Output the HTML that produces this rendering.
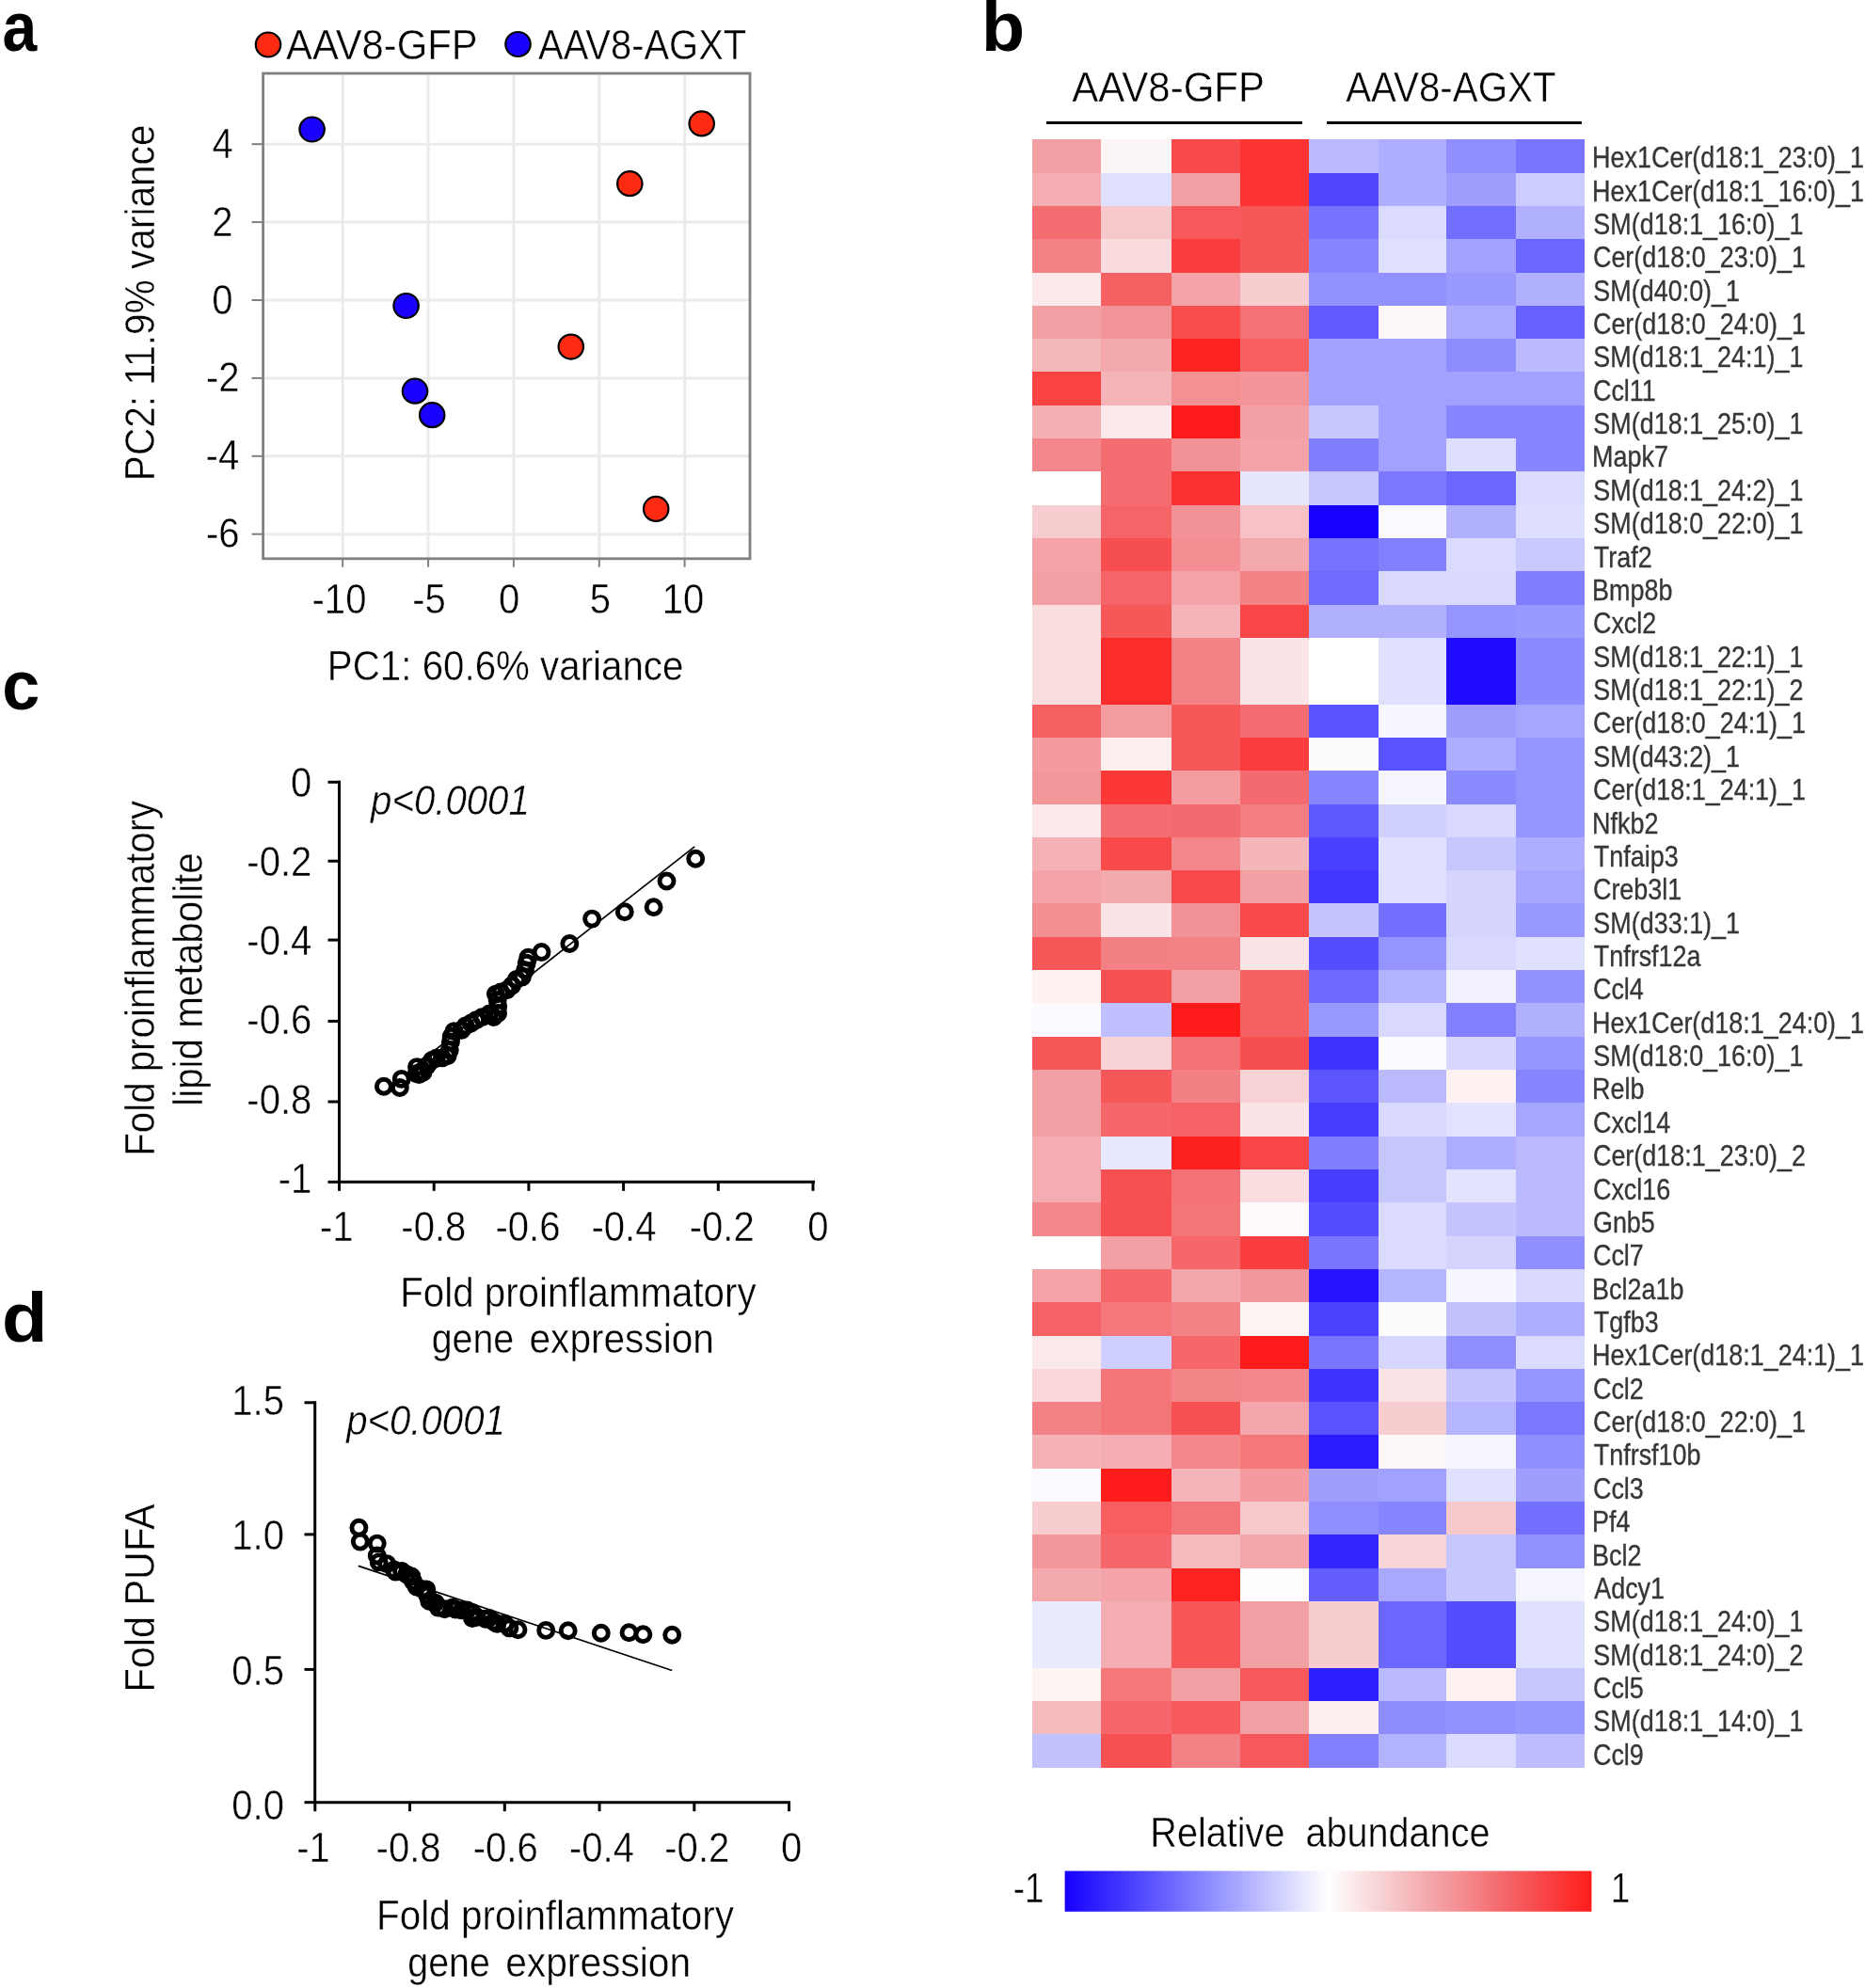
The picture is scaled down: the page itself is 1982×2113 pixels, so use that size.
<!DOCTYPE html><html><head><meta charset="utf-8"><title>Figure</title><style>html,body{margin:0;padding:0;background:#fff}svg{display:block;filter:blur(0.4px)}text{font-family:"Liberation Sans", sans-serif;white-space:pre}</style></head><body>
<svg width="1982" height="2113" viewBox="0 0 1982 2113">
<rect width="1982" height="2113" fill="#fff"/>
<g><line x1="364.2" y1="78" x2="364.2" y2="593.8" stroke="#ebebeb" stroke-width="3"/><line x1="364.2" y1="593.8" x2="364.2" y2="602.8" stroke="#7f7f7f" stroke-width="2"/><line x1="455.1" y1="78" x2="455.1" y2="593.8" stroke="#ebebeb" stroke-width="3"/><line x1="455.1" y1="593.8" x2="455.1" y2="602.8" stroke="#7f7f7f" stroke-width="2"/><line x1="545.9" y1="78" x2="545.9" y2="593.8" stroke="#ebebeb" stroke-width="3"/><line x1="545.9" y1="593.8" x2="545.9" y2="602.8" stroke="#7f7f7f" stroke-width="2"/><line x1="636.8" y1="78" x2="636.8" y2="593.8" stroke="#ebebeb" stroke-width="3"/><line x1="636.8" y1="593.8" x2="636.8" y2="602.8" stroke="#7f7f7f" stroke-width="2"/><line x1="727.6" y1="78" x2="727.6" y2="593.8" stroke="#ebebeb" stroke-width="3"/><line x1="727.6" y1="593.8" x2="727.6" y2="602.8" stroke="#7f7f7f" stroke-width="2"/><line x1="279.6" y1="153.2" x2="797" y2="153.2" stroke="#ebebeb" stroke-width="3"/><line x1="267.6" y1="153.2" x2="279.6" y2="153.2" stroke="#7f7f7f" stroke-width="2"/><line x1="279.6" y1="236.1" x2="797" y2="236.1" stroke="#ebebeb" stroke-width="3"/><line x1="267.6" y1="236.1" x2="279.6" y2="236.1" stroke="#7f7f7f" stroke-width="2"/><line x1="279.6" y1="319.0" x2="797" y2="319.0" stroke="#ebebeb" stroke-width="3"/><line x1="267.6" y1="319.0" x2="279.6" y2="319.0" stroke="#7f7f7f" stroke-width="2"/><line x1="279.6" y1="401.9" x2="797" y2="401.9" stroke="#ebebeb" stroke-width="3"/><line x1="267.6" y1="401.9" x2="279.6" y2="401.9" stroke="#7f7f7f" stroke-width="2"/><line x1="279.6" y1="484.8" x2="797" y2="484.8" stroke="#ebebeb" stroke-width="3"/><line x1="267.6" y1="484.8" x2="279.6" y2="484.8" stroke="#7f7f7f" stroke-width="2"/><line x1="279.6" y1="567.7" x2="797" y2="567.7" stroke="#ebebeb" stroke-width="3"/><line x1="267.6" y1="567.7" x2="279.6" y2="567.7" stroke="#7f7f7f" stroke-width="2"/><rect x="279.6" y="78" width="517.4" height="515.8" fill="none" stroke="#808080" stroke-width="2.8"/><ellipse cx="745.7" cy="131.4" rx="13.2" ry="13.0" fill="#ff2a12" stroke="#000" stroke-width="2.2"/><ellipse cx="669.3" cy="195.2" rx="13.2" ry="13.0" fill="#ff2a12" stroke="#000" stroke-width="2.2"/><ellipse cx="606.8" cy="368.6" rx="13.2" ry="13.0" fill="#ff2a12" stroke="#000" stroke-width="2.2"/><ellipse cx="697.2" cy="540.9" rx="13.2" ry="13.0" fill="#ff2a12" stroke="#000" stroke-width="2.2"/><ellipse cx="331.6" cy="137.5" rx="13.2" ry="13.0" fill="#1a00ff" stroke="#000" stroke-width="2.2"/><ellipse cx="431.6" cy="325" rx="13.2" ry="13.0" fill="#1a00ff" stroke="#000" stroke-width="2.2"/><ellipse cx="441" cy="415.7" rx="13.2" ry="13.0" fill="#1a00ff" stroke="#000" stroke-width="2.2"/><ellipse cx="459.2" cy="441.2" rx="13.2" ry="13.0" fill="#1a00ff" stroke="#000" stroke-width="2.2"/><ellipse cx="285" cy="47.5" rx="13.2" ry="13.0" fill="#ff2a12" stroke="#000" stroke-width="2.2"/><ellipse cx="550.5" cy="47" rx="13.2" ry="13.0" fill="#1a00ff" stroke="#000" stroke-width="2.2"/></g>
<g><path d="M360.5 829.8 V1256.3 H866.0" fill="none" stroke="#000" stroke-width="3"/><line x1="348.5" y1="831.3" x2="360.5" y2="831.3" stroke="#000" stroke-width="3"/><line x1="360.5" y1="1256.3" x2="360.5" y2="1265.8" stroke="#000" stroke-width="3"/><line x1="348.5" y1="915.2" x2="360.5" y2="915.2" stroke="#000" stroke-width="3"/><line x1="461.2" y1="1256.3" x2="461.2" y2="1265.8" stroke="#000" stroke-width="3"/><line x1="348.5" y1="999.1" x2="360.5" y2="999.1" stroke="#000" stroke-width="3"/><line x1="561.9" y1="1256.3" x2="561.9" y2="1265.8" stroke="#000" stroke-width="3"/><line x1="348.5" y1="1085.4" x2="360.5" y2="1085.4" stroke="#000" stroke-width="3"/><line x1="662.6" y1="1256.3" x2="662.6" y2="1265.8" stroke="#000" stroke-width="3"/><line x1="348.5" y1="1171.0" x2="360.5" y2="1171.0" stroke="#000" stroke-width="3"/><line x1="763.3" y1="1256.3" x2="763.3" y2="1265.8" stroke="#000" stroke-width="3"/><line x1="348.5" y1="1256.3" x2="360.5" y2="1256.3" stroke="#000" stroke-width="3"/><line x1="864.0" y1="1256.3" x2="864.0" y2="1265.8" stroke="#000" stroke-width="3"/><line x1="440" y1="1133.6" x2="738.2" y2="899.8" stroke="#000" stroke-width="1.7"/><circle cx="407.9" cy="1154.8" r="7.5" fill="none" stroke="#000" stroke-width="4.9"/><circle cx="426.7" cy="1146.9" r="7.5" fill="none" stroke="#000" stroke-width="4.9"/><circle cx="424.9" cy="1156.0" r="7.5" fill="none" stroke="#000" stroke-width="4.9"/><circle cx="575.5" cy="1012.0" r="7.5" fill="none" stroke="#000" stroke-width="4.9"/><circle cx="605.3" cy="1003.0" r="7.5" fill="none" stroke="#000" stroke-width="4.9"/><circle cx="629.1" cy="976.6" r="7.5" fill="none" stroke="#000" stroke-width="4.9"/><circle cx="663.8" cy="969.3" r="7.5" fill="none" stroke="#000" stroke-width="4.9"/><circle cx="694.6" cy="964.3" r="7.5" fill="none" stroke="#000" stroke-width="4.9"/><circle cx="708.5" cy="936.5" r="7.5" fill="none" stroke="#000" stroke-width="4.9"/><circle cx="739.2" cy="912.7" r="7.5" fill="none" stroke="#000" stroke-width="4.9"/><circle cx="443.0" cy="1134.1" r="7.5" fill="none" stroke="#000" stroke-width="4.9"/><circle cx="442.6" cy="1141.2" r="7.5" fill="none" stroke="#000" stroke-width="4.9"/><circle cx="445.4" cy="1142.0" r="7.5" fill="none" stroke="#000" stroke-width="4.9"/><circle cx="449.5" cy="1139.8" r="7.5" fill="none" stroke="#000" stroke-width="4.9"/><circle cx="453.9" cy="1132.6" r="7.5" fill="none" stroke="#000" stroke-width="4.9"/><circle cx="459.0" cy="1127.0" r="7.5" fill="none" stroke="#000" stroke-width="4.9"/><circle cx="463.7" cy="1124.7" r="7.5" fill="none" stroke="#000" stroke-width="4.9"/><circle cx="469.8" cy="1124.4" r="7.5" fill="none" stroke="#000" stroke-width="4.9"/><circle cx="475.6" cy="1122.2" r="7.5" fill="none" stroke="#000" stroke-width="4.9"/><circle cx="477.8" cy="1116.0" r="7.5" fill="none" stroke="#000" stroke-width="4.9"/><circle cx="478.9" cy="1107.4" r="7.5" fill="none" stroke="#000" stroke-width="4.9"/><circle cx="479.7" cy="1101.7" r="7.5" fill="none" stroke="#000" stroke-width="4.9"/><circle cx="482.5" cy="1096.1" r="7.5" fill="none" stroke="#000" stroke-width="4.9"/><circle cx="490.4" cy="1094.9" r="7.5" fill="none" stroke="#000" stroke-width="4.9"/><circle cx="494.6" cy="1090.5" r="7.5" fill="none" stroke="#000" stroke-width="4.9"/><circle cx="500.6" cy="1087.5" r="7.5" fill="none" stroke="#000" stroke-width="4.9"/><circle cx="506.1" cy="1084.1" r="7.5" fill="none" stroke="#000" stroke-width="4.9"/><circle cx="512.3" cy="1081.1" r="7.5" fill="none" stroke="#000" stroke-width="4.9"/><circle cx="520.1" cy="1077.5" r="7.5" fill="none" stroke="#000" stroke-width="4.9"/><circle cx="524.6" cy="1081.0" r="7.5" fill="none" stroke="#000" stroke-width="4.9"/><circle cx="529.1" cy="1077.0" r="7.5" fill="none" stroke="#000" stroke-width="4.9"/><circle cx="529.2" cy="1069.7" r="7.5" fill="none" stroke="#000" stroke-width="4.9"/><circle cx="528.7" cy="1063.0" r="7.5" fill="none" stroke="#000" stroke-width="4.9"/><circle cx="526.9" cy="1056.6" r="7.5" fill="none" stroke="#000" stroke-width="4.9"/><circle cx="532.2" cy="1054.5" r="7.5" fill="none" stroke="#000" stroke-width="4.9"/><circle cx="538.7" cy="1052.2" r="7.5" fill="none" stroke="#000" stroke-width="4.9"/><circle cx="544.1" cy="1047.4" r="7.5" fill="none" stroke="#000" stroke-width="4.9"/><circle cx="549.0" cy="1040.9" r="7.5" fill="none" stroke="#000" stroke-width="4.9"/><circle cx="554.9" cy="1038.4" r="7.5" fill="none" stroke="#000" stroke-width="4.9"/><circle cx="558.0" cy="1031.2" r="7.5" fill="none" stroke="#000" stroke-width="4.9"/><circle cx="559.7" cy="1023.7" r="7.5" fill="none" stroke="#000" stroke-width="4.9"/><circle cx="561.3" cy="1017.7" r="7.5" fill="none" stroke="#000" stroke-width="4.9"/></g>
<g><path d="M334.7 1489.3 V1915.7 H840.0" fill="none" stroke="#000" stroke-width="3"/><line x1="323.5" y1="1915.7" x2="334.7" y2="1915.7" stroke="#000" stroke-width="3"/><line x1="323.5" y1="1774.4" x2="334.7" y2="1774.4" stroke="#000" stroke-width="3"/><line x1="323.5" y1="1630.9" x2="334.7" y2="1630.9" stroke="#000" stroke-width="3"/><line x1="323.5" y1="1490.8" x2="334.7" y2="1490.8" stroke="#000" stroke-width="3"/><line x1="334.8" y1="1915.7" x2="334.8" y2="1925.2" stroke="#000" stroke-width="3"/><line x1="435.55" y1="1915.7" x2="435.55" y2="1925.2" stroke="#000" stroke-width="3"/><line x1="536.3" y1="1915.7" x2="536.3" y2="1925.2" stroke="#000" stroke-width="3"/><line x1="637.05" y1="1915.7" x2="637.05" y2="1925.2" stroke="#000" stroke-width="3"/><line x1="737.8" y1="1915.7" x2="737.8" y2="1925.2" stroke="#000" stroke-width="3"/><line x1="838.55" y1="1915.7" x2="838.55" y2="1925.2" stroke="#000" stroke-width="3"/><line x1="380.8" y1="1664.4" x2="714.2" y2="1775.5" stroke="#000" stroke-width="1.7"/><circle cx="381.4" cy="1623.7" r="7.5" fill="none" stroke="#000" stroke-width="4.9"/><circle cx="382.8" cy="1638.6" r="7.5" fill="none" stroke="#000" stroke-width="4.9"/><circle cx="400.7" cy="1640.6" r="7.5" fill="none" stroke="#000" stroke-width="4.9"/><circle cx="400.7" cy="1653.5" r="7.5" fill="none" stroke="#000" stroke-width="4.9"/><circle cx="402.7" cy="1660.4" r="7.5" fill="none" stroke="#000" stroke-width="4.9"/><circle cx="550.5" cy="1732.3" r="7.5" fill="none" stroke="#000" stroke-width="4.9"/><circle cx="580.2" cy="1732.9" r="7.5" fill="none" stroke="#000" stroke-width="4.9"/><circle cx="603.7" cy="1733.3" r="7.5" fill="none" stroke="#000" stroke-width="4.9"/><circle cx="638.8" cy="1735.8" r="7.5" fill="none" stroke="#000" stroke-width="4.9"/><circle cx="668.5" cy="1735.2" r="7.5" fill="none" stroke="#000" stroke-width="4.9"/><circle cx="683.4" cy="1737.2" r="7.5" fill="none" stroke="#000" stroke-width="4.9"/><circle cx="714.2" cy="1737.8" r="7.5" fill="none" stroke="#000" stroke-width="4.9"/><circle cx="411.1" cy="1662.1" r="7.5" fill="none" stroke="#000" stroke-width="4.9"/><circle cx="418.9" cy="1668.5" r="7.5" fill="none" stroke="#000" stroke-width="4.9"/><circle cx="420.5" cy="1670.6" r="7.5" fill="none" stroke="#000" stroke-width="4.9"/><circle cx="427.1" cy="1670.0" r="7.5" fill="none" stroke="#000" stroke-width="4.9"/><circle cx="432.3" cy="1673.5" r="7.5" fill="none" stroke="#000" stroke-width="4.9"/><circle cx="437.3" cy="1675.5" r="7.5" fill="none" stroke="#000" stroke-width="4.9"/><circle cx="438.9" cy="1680.6" r="7.5" fill="none" stroke="#000" stroke-width="4.9"/><circle cx="442.6" cy="1686.5" r="7.5" fill="none" stroke="#000" stroke-width="4.9"/><circle cx="449.1" cy="1689.3" r="7.5" fill="none" stroke="#000" stroke-width="4.9"/><circle cx="453.3" cy="1689.4" r="7.5" fill="none" stroke="#000" stroke-width="4.9"/><circle cx="452.9" cy="1690.2" r="7.5" fill="none" stroke="#000" stroke-width="4.9"/><circle cx="454.2" cy="1695.6" r="7.5" fill="none" stroke="#000" stroke-width="4.9"/><circle cx="456.2" cy="1701.7" r="7.5" fill="none" stroke="#000" stroke-width="4.9"/><circle cx="462.7" cy="1703.6" r="7.5" fill="none" stroke="#000" stroke-width="4.9"/><circle cx="465.7" cy="1708.6" r="7.5" fill="none" stroke="#000" stroke-width="4.9"/><circle cx="472.5" cy="1710.2" r="7.5" fill="none" stroke="#000" stroke-width="4.9"/><circle cx="480.8" cy="1708.8" r="7.5" fill="none" stroke="#000" stroke-width="4.9"/><circle cx="484.5" cy="1710.6" r="7.5" fill="none" stroke="#000" stroke-width="4.9"/><circle cx="491.1" cy="1711.4" r="7.5" fill="none" stroke="#000" stroke-width="4.9"/><circle cx="496.5" cy="1711.5" r="7.5" fill="none" stroke="#000" stroke-width="4.9"/><circle cx="501.9" cy="1714.0" r="7.5" fill="none" stroke="#000" stroke-width="4.9"/><circle cx="502.0" cy="1720.0" r="7.5" fill="none" stroke="#000" stroke-width="4.9"/><circle cx="506.9" cy="1718.8" r="7.5" fill="none" stroke="#000" stroke-width="4.9"/><circle cx="515.9" cy="1720.8" r="7.5" fill="none" stroke="#000" stroke-width="4.9"/><circle cx="519.6" cy="1719.9" r="7.5" fill="none" stroke="#000" stroke-width="4.9"/><circle cx="524.7" cy="1723.8" r="7.5" fill="none" stroke="#000" stroke-width="4.9"/><circle cx="528.4" cy="1725.9" r="7.5" fill="none" stroke="#000" stroke-width="4.9"/><circle cx="536.4" cy="1725.7" r="7.5" fill="none" stroke="#000" stroke-width="4.9"/><circle cx="541.4" cy="1730.4" r="7.5" fill="none" stroke="#000" stroke-width="4.9"/></g>
<g shape-rendering="crispEdges"><line x1="1111.6" y1="130" x2="1384.4" y2="130" stroke="#000" stroke-width="3"/><line x1="1409.7" y1="130" x2="1680.9" y2="130" stroke="#000" stroke-width="3"/><rect x="1097.00" y="148.30" width="73.40" height="35.61" fill="#f3a0a4"/><rect x="1170.10" y="148.30" width="75.40" height="35.61" fill="#fdf6f6"/><rect x="1245.20" y="148.30" width="73.10" height="35.61" fill="#f8494b"/><rect x="1318.00" y="148.30" width="73.70" height="35.61" fill="#fb3332"/><rect x="1391.40" y="148.30" width="73.40" height="35.61" fill="#bbbaff"/><rect x="1464.50" y="148.30" width="73.10" height="35.61" fill="#aeadff"/><rect x="1537.30" y="148.30" width="73.80" height="35.61" fill="#918fff"/><rect x="1610.80" y="148.30" width="72.80" height="35.61" fill="#7975ff"/><rect x="1097.00" y="183.61" width="73.40" height="35.61" fill="#f4adb1"/><rect x="1170.10" y="183.61" width="75.40" height="35.61" fill="#e0e0ff"/><rect x="1245.20" y="183.61" width="73.10" height="35.61" fill="#f3a0a4"/><rect x="1318.00" y="183.61" width="73.70" height="35.61" fill="#fb3332"/><rect x="1391.40" y="183.61" width="73.40" height="35.61" fill="#5047ff"/><rect x="1464.50" y="183.61" width="73.10" height="35.61" fill="#aeadff"/><rect x="1537.30" y="183.61" width="73.80" height="35.61" fill="#9f9eff"/><rect x="1610.80" y="183.61" width="72.80" height="35.61" fill="#ccccff"/><rect x="1097.00" y="218.92" width="73.40" height="35.61" fill="#f46e71"/><rect x="1170.10" y="218.92" width="75.40" height="35.61" fill="#f7c9cb"/><rect x="1245.20" y="218.92" width="73.10" height="35.61" fill="#f6595c"/><rect x="1318.00" y="218.92" width="73.70" height="35.61" fill="#f65759"/><rect x="1391.40" y="218.92" width="73.40" height="35.61" fill="#7673ff"/><rect x="1464.50" y="218.92" width="73.10" height="35.61" fill="#dbdbff"/><rect x="1537.30" y="218.92" width="73.80" height="35.61" fill="#726eff"/><rect x="1610.80" y="218.92" width="72.80" height="35.61" fill="#b1b0ff"/><rect x="1097.00" y="254.24" width="73.40" height="35.61" fill="#f38286"/><rect x="1170.10" y="254.24" width="75.40" height="35.61" fill="#f9dbdd"/><rect x="1245.20" y="254.24" width="73.10" height="35.61" fill="#fa3e3f"/><rect x="1318.00" y="254.24" width="73.70" height="35.61" fill="#f65759"/><rect x="1391.40" y="254.24" width="73.40" height="35.61" fill="#8785ff"/><rect x="1464.50" y="254.24" width="73.10" height="35.61" fill="#e0e0ff"/><rect x="1537.30" y="254.24" width="73.80" height="35.61" fill="#a2a1ff"/><rect x="1610.80" y="254.24" width="72.80" height="35.61" fill="#6b66ff"/><rect x="1097.00" y="289.55" width="73.40" height="35.61" fill="#fbe8ea"/><rect x="1170.10" y="289.55" width="75.40" height="35.61" fill="#f56063"/><rect x="1245.20" y="289.55" width="73.10" height="35.61" fill="#f4a4a8"/><rect x="1318.00" y="289.55" width="73.70" height="35.61" fill="#f7cdd0"/><rect x="1391.40" y="289.55" width="73.40" height="35.61" fill="#9391ff"/><rect x="1464.50" y="289.55" width="73.10" height="35.61" fill="#9391ff"/><rect x="1537.30" y="289.55" width="73.80" height="35.61" fill="#9a99ff"/><rect x="1610.80" y="289.55" width="72.80" height="35.61" fill="#b1b0ff"/><rect x="1097.00" y="324.86" width="73.40" height="35.61" fill="#f3a0a4"/><rect x="1170.10" y="324.86" width="75.40" height="35.61" fill="#f39498"/><rect x="1245.20" y="324.86" width="73.10" height="35.61" fill="#f84c4d"/><rect x="1318.00" y="324.86" width="73.70" height="35.61" fill="#f47276"/><rect x="1391.40" y="324.86" width="73.40" height="35.61" fill="#5f59ff"/><rect x="1464.50" y="324.86" width="73.10" height="35.61" fill="#fef8f9"/><rect x="1537.30" y="324.86" width="73.80" height="35.61" fill="#acabff"/><rect x="1610.80" y="324.86" width="72.80" height="35.61" fill="#6661ff"/><rect x="1097.00" y="360.17" width="73.40" height="35.61" fill="#f5b9bc"/><rect x="1170.10" y="360.17" width="75.40" height="35.61" fill="#f4a9ad"/><rect x="1245.20" y="360.17" width="73.10" height="35.61" fill="#fe2321"/><rect x="1318.00" y="360.17" width="73.70" height="35.61" fill="#f65e60"/><rect x="1391.40" y="360.17" width="73.40" height="35.61" fill="#a2a1ff"/><rect x="1464.50" y="360.17" width="73.10" height="35.61" fill="#a2a1ff"/><rect x="1537.30" y="360.17" width="73.80" height="35.61" fill="#8e8cff"/><rect x="1610.80" y="360.17" width="72.80" height="35.61" fill="#bbbaff"/><rect x="1097.00" y="395.49" width="73.40" height="35.61" fill="#f94343"/><rect x="1170.10" y="395.49" width="75.40" height="35.61" fill="#f5b4b8"/><rect x="1245.20" y="395.49" width="73.10" height="35.61" fill="#f39094"/><rect x="1318.00" y="395.49" width="73.70" height="35.61" fill="#f39498"/><rect x="1391.40" y="395.49" width="73.40" height="35.61" fill="#a2a1ff"/><rect x="1464.50" y="395.49" width="73.10" height="35.61" fill="#a2a1ff"/><rect x="1537.30" y="395.49" width="73.80" height="35.61" fill="#a2a1ff"/><rect x="1610.80" y="395.49" width="72.80" height="35.61" fill="#a2a1ff"/><rect x="1097.00" y="430.80" width="73.40" height="35.61" fill="#f4b0b3"/><rect x="1170.10" y="430.80" width="75.40" height="35.61" fill="#fbe8ea"/><rect x="1245.20" y="430.80" width="73.10" height="35.61" fill="#ff1c1a"/><rect x="1318.00" y="430.80" width="73.70" height="35.61" fill="#f3a0a4"/><rect x="1391.40" y="430.80" width="73.40" height="35.61" fill="#c7c7ff"/><rect x="1464.50" y="430.80" width="73.10" height="35.61" fill="#a2a1ff"/><rect x="1537.30" y="430.80" width="73.80" height="35.61" fill="#8785ff"/><rect x="1610.80" y="430.80" width="72.80" height="35.61" fill="#8785ff"/><rect x="1097.00" y="466.11" width="73.40" height="35.61" fill="#f3878b"/><rect x="1170.10" y="466.11" width="75.40" height="35.61" fill="#f46e71"/><rect x="1245.20" y="466.11" width="73.10" height="35.61" fill="#f39296"/><rect x="1318.00" y="466.11" width="73.70" height="35.61" fill="#f4a4a8"/><rect x="1391.40" y="466.11" width="73.40" height="35.61" fill="#807dff"/><rect x="1464.50" y="466.11" width="73.10" height="35.61" fill="#a2a1ff"/><rect x="1537.30" y="466.11" width="73.80" height="35.61" fill="#dedeff"/><rect x="1610.80" y="466.11" width="72.80" height="35.61" fill="#8785ff"/><rect x="1097.00" y="501.42" width="73.40" height="35.61" fill="#ffffff"/><rect x="1170.10" y="501.42" width="75.40" height="35.61" fill="#f46e71"/><rect x="1245.20" y="501.42" width="73.10" height="35.61" fill="#fc3030"/><rect x="1318.00" y="501.42" width="73.70" height="35.61" fill="#e6e6ff"/><rect x="1391.40" y="501.42" width="73.40" height="35.61" fill="#c7c7ff"/><rect x="1464.50" y="501.42" width="73.10" height="35.61" fill="#7b78ff"/><rect x="1537.30" y="501.42" width="73.80" height="35.61" fill="#6b66ff"/><rect x="1610.80" y="501.42" width="72.80" height="35.61" fill="#dbdbff"/><rect x="1097.00" y="536.73" width="73.40" height="35.61" fill="#f7cdd0"/><rect x="1170.10" y="536.73" width="75.40" height="35.61" fill="#f56568"/><rect x="1245.20" y="536.73" width="73.10" height="35.61" fill="#f39296"/><rect x="1318.00" y="536.73" width="73.70" height="35.61" fill="#f6c2c5"/><rect x="1391.40" y="536.73" width="73.40" height="35.61" fill="#1600ff"/><rect x="1464.50" y="536.73" width="73.10" height="35.61" fill="#fafaff"/><rect x="1537.30" y="536.73" width="73.80" height="35.61" fill="#b1b0ff"/><rect x="1610.80" y="536.73" width="72.80" height="35.61" fill="#dedeff"/><rect x="1097.00" y="572.05" width="73.40" height="35.61" fill="#f4a4a8"/><rect x="1170.10" y="572.05" width="75.40" height="35.61" fill="#f74e50"/><rect x="1245.20" y="572.05" width="73.10" height="35.61" fill="#f38e92"/><rect x="1318.00" y="572.05" width="73.70" height="35.61" fill="#f4a9ad"/><rect x="1391.40" y="572.05" width="73.40" height="35.61" fill="#7673ff"/><rect x="1464.50" y="572.05" width="73.10" height="35.61" fill="#8280ff"/><rect x="1537.30" y="572.05" width="73.80" height="35.61" fill="#dbdbff"/><rect x="1610.80" y="572.05" width="72.80" height="35.61" fill="#cac9ff"/><rect x="1097.00" y="607.36" width="73.40" height="35.61" fill="#f3a0a4"/><rect x="1170.10" y="607.36" width="75.40" height="35.61" fill="#f56568"/><rect x="1245.20" y="607.36" width="73.10" height="35.61" fill="#f4a4a8"/><rect x="1318.00" y="607.36" width="73.70" height="35.61" fill="#f38286"/><rect x="1391.40" y="607.36" width="73.40" height="35.61" fill="#6f6bff"/><rect x="1464.50" y="607.36" width="73.10" height="35.61" fill="#d9d9ff"/><rect x="1537.30" y="607.36" width="73.80" height="35.61" fill="#d9d9ff"/><rect x="1610.80" y="607.36" width="72.80" height="35.61" fill="#807dff"/><rect x="1097.00" y="642.67" width="73.40" height="35.61" fill="#fadddf"/><rect x="1170.10" y="642.67" width="75.40" height="35.61" fill="#f65759"/><rect x="1245.20" y="642.67" width="73.10" height="35.61" fill="#f5b4b8"/><rect x="1318.00" y="642.67" width="73.70" height="35.61" fill="#f94546"/><rect x="1391.40" y="642.67" width="73.40" height="35.61" fill="#b1b0ff"/><rect x="1464.50" y="642.67" width="73.10" height="35.61" fill="#b1b0ff"/><rect x="1537.30" y="642.67" width="73.80" height="35.61" fill="#9694ff"/><rect x="1610.80" y="642.67" width="72.80" height="35.61" fill="#9a99ff"/><rect x="1097.00" y="677.98" width="73.40" height="35.61" fill="#fadddf"/><rect x="1170.10" y="677.98" width="75.40" height="35.61" fill="#fc2c2b"/><rect x="1245.20" y="677.98" width="73.10" height="35.61" fill="#f38286"/><rect x="1318.00" y="677.98" width="73.70" height="35.61" fill="#fbe4e5"/><rect x="1391.40" y="677.98" width="73.40" height="35.61" fill="#ffffff"/><rect x="1464.50" y="677.98" width="73.10" height="35.61" fill="#e0e0ff"/><rect x="1537.30" y="677.98" width="73.80" height="35.61" fill="#200dff"/><rect x="1610.80" y="677.98" width="72.80" height="35.61" fill="#8c8aff"/><rect x="1097.00" y="713.30" width="73.40" height="35.61" fill="#fadddf"/><rect x="1170.10" y="713.30" width="75.40" height="35.61" fill="#fc2c2b"/><rect x="1245.20" y="713.30" width="73.10" height="35.61" fill="#f38286"/><rect x="1318.00" y="713.30" width="73.70" height="35.61" fill="#fbe4e5"/><rect x="1391.40" y="713.30" width="73.40" height="35.61" fill="#ffffff"/><rect x="1464.50" y="713.30" width="73.10" height="35.61" fill="#e0e0ff"/><rect x="1537.30" y="713.30" width="73.80" height="35.61" fill="#200dff"/><rect x="1610.80" y="713.30" width="72.80" height="35.61" fill="#8c8aff"/><rect x="1097.00" y="748.61" width="73.40" height="35.61" fill="#f56063"/><rect x="1170.10" y="748.61" width="75.40" height="35.61" fill="#f39da1"/><rect x="1245.20" y="748.61" width="73.10" height="35.61" fill="#f65759"/><rect x="1318.00" y="748.61" width="73.70" height="35.61" fill="#f46e71"/><rect x="1391.40" y="748.61" width="73.40" height="35.61" fill="#5952ff"/><rect x="1464.50" y="748.61" width="73.10" height="35.61" fill="#f7f7ff"/><rect x="1537.30" y="748.61" width="73.80" height="35.61" fill="#9f9eff"/><rect x="1610.80" y="748.61" width="72.80" height="35.61" fill="#a7a6ff"/><rect x="1097.00" y="783.92" width="73.40" height="35.61" fill="#f39b9f"/><rect x="1170.10" y="783.92" width="75.40" height="35.61" fill="#fceff0"/><rect x="1245.20" y="783.92" width="73.10" height="35.61" fill="#f65759"/><rect x="1318.00" y="783.92" width="73.70" height="35.61" fill="#fa3e3f"/><rect x="1391.40" y="783.92" width="73.40" height="35.61" fill="#fcfcff"/><rect x="1464.50" y="783.92" width="73.10" height="35.61" fill="#5952ff"/><rect x="1537.30" y="783.92" width="73.80" height="35.61" fill="#aeadff"/><rect x="1610.80" y="783.92" width="72.80" height="35.61" fill="#9694ff"/><rect x="1097.00" y="819.23" width="73.40" height="35.61" fill="#f3979b"/><rect x="1170.10" y="819.23" width="75.40" height="35.61" fill="#fb3737"/><rect x="1245.20" y="819.23" width="73.10" height="35.61" fill="#f39da1"/><rect x="1318.00" y="819.23" width="73.70" height="35.61" fill="#f46b6f"/><rect x="1391.40" y="819.23" width="73.40" height="35.61" fill="#8785ff"/><rect x="1464.50" y="819.23" width="73.10" height="35.61" fill="#f5f5ff"/><rect x="1537.30" y="819.23" width="73.80" height="35.61" fill="#8c8aff"/><rect x="1610.80" y="819.23" width="72.80" height="35.61" fill="#9694ff"/><rect x="1097.00" y="854.54" width="73.40" height="35.61" fill="#fbe8ea"/><rect x="1170.10" y="854.54" width="75.40" height="35.61" fill="#f46e71"/><rect x="1245.20" y="854.54" width="73.10" height="35.61" fill="#f46b6f"/><rect x="1318.00" y="854.54" width="73.70" height="35.61" fill="#f37e81"/><rect x="1391.40" y="854.54" width="73.40" height="35.61" fill="#5d57ff"/><rect x="1464.50" y="854.54" width="73.10" height="35.61" fill="#d1d1ff"/><rect x="1537.30" y="854.54" width="73.80" height="35.61" fill="#d9d9ff"/><rect x="1610.80" y="854.54" width="72.80" height="35.61" fill="#9694ff"/><rect x="1097.00" y="889.86" width="73.40" height="35.61" fill="#f4b2b6"/><rect x="1170.10" y="889.86" width="75.40" height="35.61" fill="#f8494b"/><rect x="1245.20" y="889.86" width="73.10" height="35.61" fill="#f3878b"/><rect x="1318.00" y="889.86" width="73.70" height="35.61" fill="#f5b6ba"/><rect x="1391.40" y="889.86" width="73.40" height="35.61" fill="#4940ff"/><rect x="1464.50" y="889.86" width="73.10" height="35.61" fill="#e0e0ff"/><rect x="1537.30" y="889.86" width="73.80" height="35.61" fill="#c7c7ff"/><rect x="1610.80" y="889.86" width="72.80" height="35.61" fill="#aeadff"/><rect x="1097.00" y="925.17" width="73.40" height="35.61" fill="#f4a4a8"/><rect x="1170.10" y="925.17" width="75.40" height="35.61" fill="#f4a9ad"/><rect x="1245.20" y="925.17" width="73.10" height="35.61" fill="#f8494b"/><rect x="1318.00" y="925.17" width="73.70" height="35.61" fill="#f3a0a4"/><rect x="1391.40" y="925.17" width="73.40" height="35.61" fill="#4338ff"/><rect x="1464.50" y="925.17" width="73.10" height="35.61" fill="#e0e0ff"/><rect x="1537.30" y="925.17" width="73.80" height="35.61" fill="#d4d4ff"/><rect x="1610.80" y="925.17" width="72.80" height="35.61" fill="#a7a6ff"/><rect x="1097.00" y="960.48" width="73.40" height="35.61" fill="#f38e92"/><rect x="1170.10" y="960.48" width="75.40" height="35.61" fill="#fbe4e5"/><rect x="1245.20" y="960.48" width="73.10" height="35.61" fill="#f39296"/><rect x="1318.00" y="960.48" width="73.70" height="35.61" fill="#f8494b"/><rect x="1391.40" y="960.48" width="73.40" height="35.61" fill="#c5c4ff"/><rect x="1464.50" y="960.48" width="73.10" height="35.61" fill="#7470ff"/><rect x="1537.30" y="960.48" width="73.80" height="35.61" fill="#d4d4ff"/><rect x="1610.80" y="960.48" width="72.80" height="35.61" fill="#9a99ff"/><rect x="1097.00" y="995.79" width="73.40" height="35.61" fill="#f65759"/><rect x="1170.10" y="995.79" width="75.40" height="35.61" fill="#f38084"/><rect x="1245.20" y="995.79" width="73.10" height="35.61" fill="#f38286"/><rect x="1318.00" y="995.79" width="73.70" height="35.61" fill="#fbe4e5"/><rect x="1391.40" y="995.79" width="73.40" height="35.61" fill="#544cff"/><rect x="1464.50" y="995.79" width="73.10" height="35.61" fill="#9694ff"/><rect x="1537.30" y="995.79" width="73.80" height="35.61" fill="#d9d9ff"/><rect x="1610.80" y="995.79" width="72.80" height="35.61" fill="#e0e0ff"/><rect x="1097.00" y="1031.11" width="73.40" height="35.61" fill="#fdf1f2"/><rect x="1170.10" y="1031.11" width="75.40" height="35.61" fill="#f75052"/><rect x="1245.20" y="1031.11" width="73.10" height="35.61" fill="#f3a0a4"/><rect x="1318.00" y="1031.11" width="73.70" height="35.61" fill="#f56063"/><rect x="1391.40" y="1031.11" width="73.40" height="35.61" fill="#6d69ff"/><rect x="1464.50" y="1031.11" width="73.10" height="35.61" fill="#b3b2ff"/><rect x="1537.30" y="1031.11" width="73.80" height="35.61" fill="#f2f2ff"/><rect x="1610.80" y="1031.11" width="72.80" height="35.61" fill="#9391ff"/><rect x="1097.00" y="1066.42" width="73.40" height="35.61" fill="#fafaff"/><rect x="1170.10" y="1066.42" width="75.40" height="35.61" fill="#c0bfff"/><rect x="1245.20" y="1066.42" width="73.10" height="35.61" fill="#ff1c1a"/><rect x="1318.00" y="1066.42" width="73.70" height="35.61" fill="#f56063"/><rect x="1391.40" y="1066.42" width="73.40" height="35.61" fill="#9a99ff"/><rect x="1464.50" y="1066.42" width="73.10" height="35.61" fill="#d9d9ff"/><rect x="1537.30" y="1066.42" width="73.80" height="35.61" fill="#8280ff"/><rect x="1610.80" y="1066.42" width="72.80" height="35.61" fill="#b1b0ff"/><rect x="1097.00" y="1101.73" width="73.40" height="35.61" fill="#f65759"/><rect x="1170.10" y="1101.73" width="75.40" height="35.61" fill="#f8d2d4"/><rect x="1245.20" y="1101.73" width="73.10" height="35.61" fill="#f47276"/><rect x="1318.00" y="1101.73" width="73.70" height="35.61" fill="#f74e50"/><rect x="1391.40" y="1101.73" width="73.40" height="35.61" fill="#3e33ff"/><rect x="1464.50" y="1101.73" width="73.10" height="35.61" fill="#fafaff"/><rect x="1537.30" y="1101.73" width="73.80" height="35.61" fill="#d6d6ff"/><rect x="1610.80" y="1101.73" width="72.80" height="35.61" fill="#9694ff"/><rect x="1097.00" y="1137.04" width="73.40" height="35.61" fill="#f3a0a4"/><rect x="1170.10" y="1137.04" width="75.40" height="35.61" fill="#f65759"/><rect x="1245.20" y="1137.04" width="73.10" height="35.61" fill="#f38084"/><rect x="1318.00" y="1137.04" width="73.70" height="35.61" fill="#f8d2d4"/><rect x="1391.40" y="1137.04" width="73.40" height="35.61" fill="#5b54ff"/><rect x="1464.50" y="1137.04" width="73.10" height="35.61" fill="#bbbaff"/><rect x="1537.30" y="1137.04" width="73.80" height="35.61" fill="#fdf1f2"/><rect x="1610.80" y="1137.04" width="72.80" height="35.61" fill="#8785ff"/><rect x="1097.00" y="1172.36" width="73.40" height="35.61" fill="#f3a0a4"/><rect x="1170.10" y="1172.36" width="75.40" height="35.61" fill="#f5676a"/><rect x="1245.20" y="1172.36" width="73.10" height="35.61" fill="#f56265"/><rect x="1318.00" y="1172.36" width="73.70" height="35.61" fill="#fbe4e5"/><rect x="1391.40" y="1172.36" width="73.40" height="35.61" fill="#473dff"/><rect x="1464.50" y="1172.36" width="73.10" height="35.61" fill="#d9d9ff"/><rect x="1537.30" y="1172.36" width="73.80" height="35.61" fill="#e3e3ff"/><rect x="1610.80" y="1172.36" width="72.80" height="35.61" fill="#a7a6ff"/><rect x="1097.00" y="1207.67" width="73.40" height="35.61" fill="#f4adb1"/><rect x="1170.10" y="1207.67" width="75.40" height="35.61" fill="#e8e8ff"/><rect x="1245.20" y="1207.67" width="73.10" height="35.61" fill="#fe211f"/><rect x="1318.00" y="1207.67" width="73.70" height="35.61" fill="#f94546"/><rect x="1391.40" y="1207.67" width="73.40" height="35.61" fill="#807dff"/><rect x="1464.50" y="1207.67" width="73.10" height="35.61" fill="#c7c7ff"/><rect x="1537.30" y="1207.67" width="73.80" height="35.61" fill="#aeadff"/><rect x="1610.80" y="1207.67" width="72.80" height="35.61" fill="#bbbaff"/><rect x="1097.00" y="1242.98" width="73.40" height="35.61" fill="#f4adb1"/><rect x="1170.10" y="1242.98" width="75.40" height="35.61" fill="#f75052"/><rect x="1245.20" y="1242.98" width="73.10" height="35.61" fill="#f47276"/><rect x="1318.00" y="1242.98" width="73.70" height="35.61" fill="#fadddf"/><rect x="1391.40" y="1242.98" width="73.40" height="35.61" fill="#473dff"/><rect x="1464.50" y="1242.98" width="73.10" height="35.61" fill="#c7c7ff"/><rect x="1537.30" y="1242.98" width="73.80" height="35.61" fill="#e3e3ff"/><rect x="1610.80" y="1242.98" width="72.80" height="35.61" fill="#bbbaff"/><rect x="1097.00" y="1278.29" width="73.40" height="35.61" fill="#f3878b"/><rect x="1170.10" y="1278.29" width="75.40" height="35.61" fill="#f75052"/><rect x="1245.20" y="1278.29" width="73.10" height="35.61" fill="#f47578"/><rect x="1318.00" y="1278.29" width="73.70" height="35.61" fill="#fefafb"/><rect x="1391.40" y="1278.29" width="73.40" height="35.61" fill="#544cff"/><rect x="1464.50" y="1278.29" width="73.10" height="35.61" fill="#dbdbff"/><rect x="1537.30" y="1278.29" width="73.80" height="35.61" fill="#c5c4ff"/><rect x="1610.80" y="1278.29" width="72.80" height="35.61" fill="#bbbaff"/><rect x="1097.00" y="1313.60" width="73.40" height="35.61" fill="#ffffff"/><rect x="1170.10" y="1313.60" width="75.40" height="35.61" fill="#f3a0a4"/><rect x="1245.20" y="1313.60" width="73.10" height="35.61" fill="#f5676a"/><rect x="1318.00" y="1313.60" width="73.70" height="35.61" fill="#fa3e3f"/><rect x="1391.40" y="1313.60" width="73.40" height="35.61" fill="#7975ff"/><rect x="1464.50" y="1313.60" width="73.10" height="35.61" fill="#dbdbff"/><rect x="1537.30" y="1313.60" width="73.80" height="35.61" fill="#d4d4ff"/><rect x="1610.80" y="1313.60" width="72.80" height="35.61" fill="#918fff"/><rect x="1097.00" y="1348.92" width="73.40" height="35.61" fill="#f4a4a8"/><rect x="1170.10" y="1348.92" width="75.40" height="35.61" fill="#f5676a"/><rect x="1245.20" y="1348.92" width="73.10" height="35.61" fill="#f4a6aa"/><rect x="1318.00" y="1348.92" width="73.70" height="35.61" fill="#f3979b"/><rect x="1391.40" y="1348.92" width="73.40" height="35.61" fill="#2614ff"/><rect x="1464.50" y="1348.92" width="73.10" height="35.61" fill="#b6b5ff"/><rect x="1537.30" y="1348.92" width="73.80" height="35.61" fill="#f7f7ff"/><rect x="1610.80" y="1348.92" width="72.80" height="35.61" fill="#d9d9ff"/><rect x="1097.00" y="1384.23" width="73.40" height="35.61" fill="#f56265"/><rect x="1170.10" y="1384.23" width="75.40" height="35.61" fill="#f4777a"/><rect x="1245.20" y="1384.23" width="73.10" height="35.61" fill="#f38286"/><rect x="1318.00" y="1384.23" width="73.70" height="35.61" fill="#fdf4f4"/><rect x="1391.40" y="1384.23" width="73.40" height="35.61" fill="#4b42ff"/><rect x="1464.50" y="1384.23" width="73.10" height="35.61" fill="#fcfcff"/><rect x="1537.30" y="1384.23" width="73.80" height="35.61" fill="#c2c2ff"/><rect x="1610.80" y="1384.23" width="72.80" height="35.61" fill="#aeadff"/><rect x="1097.00" y="1419.54" width="73.40" height="35.61" fill="#fbe8ea"/><rect x="1170.10" y="1419.54" width="75.40" height="35.61" fill="#cfcfff"/><rect x="1245.20" y="1419.54" width="73.10" height="35.61" fill="#f5676a"/><rect x="1318.00" y="1419.54" width="73.70" height="35.61" fill="#ff1c1a"/><rect x="1391.40" y="1419.54" width="73.40" height="35.61" fill="#7975ff"/><rect x="1464.50" y="1419.54" width="73.10" height="35.61" fill="#d6d6ff"/><rect x="1537.30" y="1419.54" width="73.80" height="35.61" fill="#918fff"/><rect x="1610.80" y="1419.54" width="72.80" height="35.61" fill="#dbdbff"/><rect x="1097.00" y="1454.85" width="73.40" height="35.61" fill="#f9d6d8"/><rect x="1170.10" y="1454.85" width="75.40" height="35.61" fill="#f47578"/><rect x="1245.20" y="1454.85" width="73.10" height="35.61" fill="#f38488"/><rect x="1318.00" y="1454.85" width="73.70" height="35.61" fill="#f3878b"/><rect x="1391.40" y="1454.85" width="73.40" height="35.61" fill="#3e33ff"/><rect x="1464.50" y="1454.85" width="73.10" height="35.61" fill="#fbe4e5"/><rect x="1537.30" y="1454.85" width="73.80" height="35.61" fill="#c5c4ff"/><rect x="1610.80" y="1454.85" width="72.80" height="35.61" fill="#9694ff"/><rect x="1097.00" y="1490.17" width="73.40" height="35.61" fill="#f38286"/><rect x="1170.10" y="1490.17" width="75.40" height="35.61" fill="#f47578"/><rect x="1245.20" y="1490.17" width="73.10" height="35.61" fill="#f75052"/><rect x="1318.00" y="1490.17" width="73.70" height="35.61" fill="#f4a6aa"/><rect x="1391.40" y="1490.17" width="73.40" height="35.61" fill="#5952ff"/><rect x="1464.50" y="1490.17" width="73.10" height="35.61" fill="#f7cdd0"/><rect x="1537.30" y="1490.17" width="73.80" height="35.61" fill="#b6b5ff"/><rect x="1610.80" y="1490.17" width="72.80" height="35.61" fill="#7b78ff"/><rect x="1097.00" y="1525.48" width="73.40" height="35.61" fill="#f4b2b6"/><rect x="1170.10" y="1525.48" width="75.40" height="35.61" fill="#f4adb1"/><rect x="1245.20" y="1525.48" width="73.10" height="35.61" fill="#f3878b"/><rect x="1318.00" y="1525.48" width="73.70" height="35.61" fill="#f4777a"/><rect x="1391.40" y="1525.48" width="73.40" height="35.61" fill="#2a1aff"/><rect x="1464.50" y="1525.48" width="73.10" height="35.61" fill="#fef8f9"/><rect x="1537.30" y="1525.48" width="73.80" height="35.61" fill="#f5f5ff"/><rect x="1610.80" y="1525.48" width="72.80" height="35.61" fill="#918fff"/><rect x="1097.00" y="1560.79" width="73.40" height="35.61" fill="#fafaff"/><rect x="1170.10" y="1560.79" width="75.40" height="35.61" fill="#ff1c1a"/><rect x="1245.20" y="1560.79" width="73.10" height="35.61" fill="#f5b4b8"/><rect x="1318.00" y="1560.79" width="73.70" height="35.61" fill="#f39b9f"/><rect x="1391.40" y="1560.79" width="73.40" height="35.61" fill="#9f9eff"/><rect x="1464.50" y="1560.79" width="73.10" height="35.61" fill="#a2a1ff"/><rect x="1537.30" y="1560.79" width="73.80" height="35.61" fill="#e0e0ff"/><rect x="1610.80" y="1560.79" width="72.80" height="35.61" fill="#9f9eff"/><rect x="1097.00" y="1596.10" width="73.40" height="35.61" fill="#f7cdd0"/><rect x="1170.10" y="1596.10" width="75.40" height="35.61" fill="#f65e60"/><rect x="1245.20" y="1596.10" width="73.10" height="35.61" fill="#f47578"/><rect x="1318.00" y="1596.10" width="73.70" height="35.61" fill="#f7c9cb"/><rect x="1391.40" y="1596.10" width="73.40" height="35.61" fill="#918fff"/><rect x="1464.50" y="1596.10" width="73.10" height="35.61" fill="#8785ff"/><rect x="1537.30" y="1596.10" width="73.80" height="35.61" fill="#f7c9cb"/><rect x="1610.80" y="1596.10" width="72.80" height="35.61" fill="#7470ff"/><rect x="1097.00" y="1631.41" width="73.40" height="35.61" fill="#f3979b"/><rect x="1170.10" y="1631.41" width="75.40" height="35.61" fill="#f5676a"/><rect x="1245.20" y="1631.41" width="73.10" height="35.61" fill="#f5bbbe"/><rect x="1318.00" y="1631.41" width="73.70" height="35.61" fill="#f4a6aa"/><rect x="1391.40" y="1631.41" width="73.40" height="35.61" fill="#3426ff"/><rect x="1464.50" y="1631.41" width="73.10" height="35.61" fill="#f8d4d6"/><rect x="1537.30" y="1631.41" width="73.80" height="35.61" fill="#c7c7ff"/><rect x="1610.80" y="1631.41" width="72.80" height="35.61" fill="#9391ff"/><rect x="1097.00" y="1666.73" width="73.40" height="35.61" fill="#f4a9ad"/><rect x="1170.10" y="1666.73" width="75.40" height="35.61" fill="#f4a4a8"/><rect x="1245.20" y="1666.73" width="73.10" height="35.61" fill="#fe2321"/><rect x="1318.00" y="1666.73" width="73.70" height="35.61" fill="#fffdfd"/><rect x="1391.40" y="1666.73" width="73.40" height="35.61" fill="#645eff"/><rect x="1464.50" y="1666.73" width="73.10" height="35.61" fill="#a9a8ff"/><rect x="1537.30" y="1666.73" width="73.80" height="35.61" fill="#c7c7ff"/><rect x="1610.80" y="1666.73" width="72.80" height="35.61" fill="#f5f5ff"/><rect x="1097.00" y="1702.04" width="73.40" height="35.61" fill="#ebebff"/><rect x="1170.10" y="1702.04" width="75.40" height="35.61" fill="#f4adb1"/><rect x="1245.20" y="1702.04" width="73.10" height="35.61" fill="#f75557"/><rect x="1318.00" y="1702.04" width="73.70" height="35.61" fill="#f3a0a4"/><rect x="1391.40" y="1702.04" width="73.40" height="35.61" fill="#f7cdd0"/><rect x="1464.50" y="1702.04" width="73.10" height="35.61" fill="#6b66ff"/><rect x="1537.30" y="1702.04" width="73.80" height="35.61" fill="#544cff"/><rect x="1610.80" y="1702.04" width="72.80" height="35.61" fill="#e0e0ff"/><rect x="1097.00" y="1737.35" width="73.40" height="35.61" fill="#ebebff"/><rect x="1170.10" y="1737.35" width="75.40" height="35.61" fill="#f4adb1"/><rect x="1245.20" y="1737.35" width="73.10" height="35.61" fill="#f75557"/><rect x="1318.00" y="1737.35" width="73.70" height="35.61" fill="#f3a0a4"/><rect x="1391.40" y="1737.35" width="73.40" height="35.61" fill="#f7cdd0"/><rect x="1464.50" y="1737.35" width="73.10" height="35.61" fill="#6b66ff"/><rect x="1537.30" y="1737.35" width="73.80" height="35.61" fill="#544cff"/><rect x="1610.80" y="1737.35" width="72.80" height="35.61" fill="#e0e0ff"/><rect x="1097.00" y="1772.66" width="73.40" height="35.61" fill="#fdf4f4"/><rect x="1170.10" y="1772.66" width="75.40" height="35.61" fill="#f4777a"/><rect x="1245.20" y="1772.66" width="73.10" height="35.61" fill="#f3a0a4"/><rect x="1318.00" y="1772.66" width="73.70" height="35.61" fill="#f6595c"/><rect x="1391.40" y="1772.66" width="73.40" height="35.61" fill="#2e1fff"/><rect x="1464.50" y="1772.66" width="73.10" height="35.61" fill="#bbbaff"/><rect x="1537.30" y="1772.66" width="73.80" height="35.61" fill="#fdf1f2"/><rect x="1610.80" y="1772.66" width="72.80" height="35.61" fill="#c7c7ff"/><rect x="1097.00" y="1807.98" width="73.40" height="35.61" fill="#f5bbbe"/><rect x="1170.10" y="1807.98" width="75.40" height="35.61" fill="#f5676a"/><rect x="1245.20" y="1807.98" width="73.10" height="35.61" fill="#f6595c"/><rect x="1318.00" y="1807.98" width="73.70" height="35.61" fill="#f3a0a4"/><rect x="1391.40" y="1807.98" width="73.40" height="35.61" fill="#fcedee"/><rect x="1464.50" y="1807.98" width="73.10" height="35.61" fill="#8e8cff"/><rect x="1537.30" y="1807.98" width="73.80" height="35.61" fill="#9391ff"/><rect x="1610.80" y="1807.98" width="72.80" height="35.61" fill="#9896ff"/><rect x="1097.00" y="1843.29" width="73.40" height="35.31" fill="#c2c2ff"/><rect x="1170.10" y="1843.29" width="75.40" height="35.31" fill="#f75052"/><rect x="1245.20" y="1843.29" width="73.10" height="35.31" fill="#f38286"/><rect x="1318.00" y="1843.29" width="73.70" height="35.31" fill="#f6595c"/><rect x="1391.40" y="1843.29" width="73.40" height="35.31" fill="#8280ff"/><rect x="1464.50" y="1843.29" width="73.10" height="35.31" fill="#b3b2ff"/><rect x="1537.30" y="1843.29" width="73.80" height="35.31" fill="#dbdbff"/><rect x="1610.80" y="1843.29" width="72.80" height="35.31" fill="#bdbdff"/></g>
<defs><linearGradient id="cb" x1="0" x2="1" y1="0" y2="0"><stop offset="0.000" stop-color="#1600ff"/><stop offset="0.050" stop-color="#2a1aff"/><stop offset="0.100" stop-color="#3e33ff"/><stop offset="0.150" stop-color="#544cff"/><stop offset="0.200" stop-color="#6b66ff"/><stop offset="0.250" stop-color="#8280ff"/><stop offset="0.300" stop-color="#9a99ff"/><stop offset="0.350" stop-color="#b3b2ff"/><stop offset="0.400" stop-color="#ccccff"/><stop offset="0.450" stop-color="#e6e6ff"/><stop offset="0.500" stop-color="#ffffff"/><stop offset="0.550" stop-color="#fbe8ea"/><stop offset="0.600" stop-color="#f8d2d4"/><stop offset="0.650" stop-color="#f5bbbe"/><stop offset="0.700" stop-color="#f4a4a8"/><stop offset="0.750" stop-color="#f38e92"/><stop offset="0.800" stop-color="#f4777a"/><stop offset="0.850" stop-color="#f56063"/><stop offset="0.900" stop-color="#f8494b"/><stop offset="0.950" stop-color="#fb3332"/><stop offset="1.000" stop-color="#ff1c1a"/></linearGradient></defs>
<rect x="1131.6" y="1988.6" width="559.8" height="43.2" fill="url(#cb)"/>
<text transform="translate(2.47 54.40) scale(0.8920 1)" font-size="74" fill="#000" font-weight="bold">a</text>
<text transform="translate(1042.98 54.40) scale(1.0195 1)" font-size="74" fill="#000" font-weight="bold">b</text>
<text transform="translate(2.25 753.80) scale(0.9730 1)" font-size="74" fill="#000" font-weight="bold">c</text>
<text transform="translate(2.02 1426.30) scale(1.0719 1)" font-size="74" fill="#000" font-weight="bold">d</text>
<text transform="translate(304.00 63.00) scale(0.9506 1)" font-size="44" fill="#000" stroke="#fff" stroke-width="0.45">AAV8-GFP</text>
<text transform="translate(572.00 63.00) scale(0.9080 1)" font-size="44" fill="#000" stroke="#fff" stroke-width="0.45">AAV8-AGXT</text>
<text transform="translate(225.55 167.70) scale(0.9100 1)" font-size="44" fill="#000" stroke="#fff" stroke-width="0.45">4</text>
<text transform="translate(225.24 250.60) scale(0.9100 1)" font-size="44" fill="#000" stroke="#fff" stroke-width="0.45">2</text>
<text transform="translate(225.24 333.50) scale(0.9100 1)" font-size="44" fill="#000" stroke="#fff" stroke-width="0.45">0</text>
<text transform="translate(218.88 416.40) scale(0.9100 1)" font-size="44" fill="#000" stroke="#fff" stroke-width="0.45">-2</text>
<text transform="translate(218.57 499.30) scale(0.9100 1)" font-size="44" fill="#000" stroke="#fff" stroke-width="0.45">-4</text>
<text transform="translate(218.88 582.20) scale(0.9100 1)" font-size="44" fill="#000" stroke="#fff" stroke-width="0.45">-6</text>
<text transform="translate(331.54 651.60) scale(0.9100 1)" font-size="44" fill="#000" stroke="#fff" stroke-width="0.45">-10</text>
<text transform="translate(438.13 651.60) scale(0.9100 1)" font-size="44" fill="#000" stroke="#fff" stroke-width="0.45">-5</text>
<text transform="translate(529.89 651.60) scale(0.9100 1)" font-size="44" fill="#000" stroke="#fff" stroke-width="0.45">0</text>
<text transform="translate(626.70 651.60) scale(0.9100 1)" font-size="44" fill="#000" stroke="#fff" stroke-width="0.45">5</text>
<text transform="translate(703.78 651.60) scale(0.9100 1)" font-size="44" fill="#000" stroke="#fff" stroke-width="0.45">10</text>
<text transform="translate(347.85 722.60) scale(0.9159 1)" font-size="44" fill="#000" stroke="#fff" stroke-width="0.45">PC1: 60.6% variance</text>
<text transform="translate(164.00 511.18) rotate(-90) scale(0.9238 1)" font-size="44" fill="#000" stroke="#fff" stroke-width="0.45">PC2: 11.9% variance</text>
<text transform="translate(309.03 846.70) scale(0.9100 1)" font-size="44" fill="#000" stroke="#fff" stroke-width="0.45">0</text>
<text transform="translate(262.31 930.95) scale(0.9100 1)" font-size="44" fill="#000" stroke="#fff" stroke-width="0.45">-0.2</text>
<text transform="translate(262.31 1015.20) scale(0.9100 1)" font-size="44" fill="#000" stroke="#fff" stroke-width="0.45">-0.4</text>
<text transform="translate(262.31 1099.45) scale(0.9100 1)" font-size="44" fill="#000" stroke="#fff" stroke-width="0.45">-0.6</text>
<text transform="translate(262.31 1183.70) scale(0.9100 1)" font-size="44" fill="#000" stroke="#fff" stroke-width="0.45">-0.8</text>
<text transform="translate(295.70 1267.95) scale(0.9100 1)" font-size="44" fill="#000" stroke="#fff" stroke-width="0.45">-1</text>
<text transform="translate(394.06 865.50) scale(0.9139 1)" font-size="44" fill="#000" font-style="italic" stroke="#fff" stroke-width="0.45">p&lt;0.0001</text>
<text transform="translate(339.93 1319.30) scale(0.9100 1)" font-size="44" fill="#000" stroke="#fff" stroke-width="0.45">-1</text>
<text transform="translate(426.34 1319.30) scale(0.9100 1)" font-size="44" fill="#000" stroke="#fff" stroke-width="0.45">-0.8</text>
<text transform="translate(526.44 1319.30) scale(0.9100 1)" font-size="44" fill="#000" stroke="#fff" stroke-width="0.45">-0.6</text>
<text transform="translate(628.48 1319.30) scale(0.9100 1)" font-size="44" fill="#000" stroke="#fff" stroke-width="0.45">-0.4</text>
<text transform="translate(732.69 1319.30) scale(0.9100 1)" font-size="44" fill="#000" stroke="#fff" stroke-width="0.45">-0.2</text>
<text transform="translate(858.19 1319.30) scale(0.9100 1)" font-size="44" fill="#000" stroke="#fff" stroke-width="0.45">0</text>
<text transform="translate(425.25 1388.50) scale(0.9158 1)" font-size="44" fill="#000" stroke="#fff" stroke-width="0.45">Fold proinflammatory</text>
<text transform="translate(458.67 1438.40) scale(0.8942 1)" font-size="44" fill="#000" stroke="#fff" stroke-width="0.45">gene</text>
<text transform="translate(562.53 1438.40) scale(0.9228 1)" font-size="44" fill="#000" stroke="#fff" stroke-width="0.45">expression</text>
<text transform="translate(164.00 1228.75) rotate(-90) scale(0.9150 1)" font-size="44" fill="#000" stroke="#fff" stroke-width="0.45">Fold proinflammatory</text>
<text transform="translate(214.50 1175.83) rotate(-90) scale(0.9188 1)" font-size="44" fill="#000" stroke="#fff" stroke-width="0.45">lipid metabolite</text>
<text transform="translate(246.34 1934.00) scale(0.9100 1)" font-size="44" fill="#000" stroke="#fff" stroke-width="0.45">0.0</text>
<text transform="translate(246.34 1790.60) scale(0.9100 1)" font-size="44" fill="#000" stroke="#fff" stroke-width="0.45">0.5</text>
<text transform="translate(246.34 1647.20) scale(0.9100 1)" font-size="44" fill="#000" stroke="#fff" stroke-width="0.45">1.0</text>
<text transform="translate(246.34 1503.80) scale(0.9100 1)" font-size="44" fill="#000" stroke="#fff" stroke-width="0.45">1.5</text>
<text transform="translate(368.16 1525.00) scale(0.9133 1)" font-size="44" fill="#000" font-style="italic" stroke="#fff" stroke-width="0.45">p&lt;0.0001</text>
<text transform="translate(315.23 1979.30) scale(0.9100 1)" font-size="44" fill="#000" stroke="#fff" stroke-width="0.45">-1</text>
<text transform="translate(399.59 1979.30) scale(0.9100 1)" font-size="44" fill="#000" stroke="#fff" stroke-width="0.45">-0.8</text>
<text transform="translate(502.74 1979.30) scale(0.9100 1)" font-size="44" fill="#000" stroke="#fff" stroke-width="0.45">-0.6</text>
<text transform="translate(604.93 1979.30) scale(0.9100 1)" font-size="44" fill="#000" stroke="#fff" stroke-width="0.45">-0.4</text>
<text transform="translate(706.29 1979.30) scale(0.9100 1)" font-size="44" fill="#000" stroke="#fff" stroke-width="0.45">-0.2</text>
<text transform="translate(829.94 1979.30) scale(0.9100 1)" font-size="44" fill="#000" stroke="#fff" stroke-width="0.45">0</text>
<text transform="translate(400.04 2050.50) scale(0.9194 1)" font-size="44" fill="#000" stroke="#fff" stroke-width="0.45">Fold proinflammatory</text>
<text transform="translate(433.37 2100.50) scale(0.8942 1)" font-size="44" fill="#000" stroke="#fff" stroke-width="0.45">gene</text>
<text transform="translate(537.23 2100.50) scale(0.9256 1)" font-size="44" fill="#000" stroke="#fff" stroke-width="0.45">expression</text>
<text transform="translate(164.00 1798.43) rotate(-90) scale(0.9403 1)" font-size="44" fill="#000" stroke="#fff" stroke-width="0.45">Fold PUFA</text>
<text transform="translate(1139.30 107.60) scale(0.9553 1)" font-size="44" fill="#000" stroke="#fff" stroke-width="0.45">AAV8-GFP</text>
<text transform="translate(1430.20 107.60) scale(0.9171 1)" font-size="44" fill="#000" stroke="#fff" stroke-width="0.45">AAV8-AGXT</text>
<text transform="translate(1222.31 1963.30) scale(0.9004 1)" font-size="44" fill="#000" stroke="#fff" stroke-width="0.45">Relative  abundance</text>
<text transform="translate(1076.74 2022.30) scale(0.8400 1)" font-size="44" fill="#000" stroke="#fff" stroke-width="0.45">-1</text>
<text transform="translate(1711.82 2022.30) scale(0.8400 1)" font-size="44" fill="#000" stroke="#fff" stroke-width="0.45">1</text>
<text transform="translate(1692.10 178.20) scale(0.8690 1)" font-size="31" fill="#363636" stroke="#363636" stroke-width="0.35">Hex1Cer(d18:1_23:0)_1</text>
<text transform="translate(1692.10 213.56) scale(0.8690 1)" font-size="31" fill="#363636" stroke="#363636" stroke-width="0.35">Hex1Cer(d18:1_16:0)_1</text>
<text transform="translate(1693.36 248.93) scale(0.8690 1)" font-size="31" fill="#363636" stroke="#363636" stroke-width="0.35">SM(d18:1_16:0)_1</text>
<text transform="translate(1692.94 284.29) scale(0.8690 1)" font-size="31" fill="#363636" stroke="#363636" stroke-width="0.35">Cer(d18:0_23:0)_1</text>
<text transform="translate(1693.36 319.66) scale(0.8690 1)" font-size="31" fill="#363636" stroke="#363636" stroke-width="0.35">SM(d40:0)_1</text>
<text transform="translate(1692.94 355.02) scale(0.8690 1)" font-size="31" fill="#363636" stroke="#363636" stroke-width="0.35">Cer(d18:0_24:0)_1</text>
<text transform="translate(1693.36 390.39) scale(0.8690 1)" font-size="31" fill="#363636" stroke="#363636" stroke-width="0.35">SM(d18:1_24:1)_1</text>
<text transform="translate(1692.94 425.75) scale(0.8690 1)" font-size="31" fill="#363636" stroke="#363636" stroke-width="0.35">Ccl11</text>
<text transform="translate(1693.36 461.12) scale(0.8690 1)" font-size="31" fill="#363636" stroke="#363636" stroke-width="0.35">SM(d18:1_25:0)_1</text>
<text transform="translate(1692.10 496.49) scale(0.8690 1)" font-size="31" fill="#363636" stroke="#363636" stroke-width="0.35">Mapk7</text>
<text transform="translate(1693.36 531.85) scale(0.8690 1)" font-size="31" fill="#363636" stroke="#363636" stroke-width="0.35">SM(d18:1_24:2)_1</text>
<text transform="translate(1693.36 567.22) scale(0.8690 1)" font-size="31" fill="#363636" stroke="#363636" stroke-width="0.35">SM(d18:0_22:0)_1</text>
<text transform="translate(1693.78 602.58) scale(0.8690 1)" font-size="31" fill="#363636" stroke="#363636" stroke-width="0.35">Traf2</text>
<text transform="translate(1692.10 637.94) scale(0.8690 1)" font-size="31" fill="#363636" stroke="#363636" stroke-width="0.35">Bmp8b</text>
<text transform="translate(1692.94 673.31) scale(0.8690 1)" font-size="31" fill="#363636" stroke="#363636" stroke-width="0.35">Cxcl2</text>
<text transform="translate(1693.36 708.67) scale(0.8690 1)" font-size="31" fill="#363636" stroke="#363636" stroke-width="0.35">SM(d18:1_22:1)_1</text>
<text transform="translate(1693.36 744.04) scale(0.8690 1)" font-size="31" fill="#363636" stroke="#363636" stroke-width="0.35">SM(d18:1_22:1)_2</text>
<text transform="translate(1692.94 779.40) scale(0.8690 1)" font-size="31" fill="#363636" stroke="#363636" stroke-width="0.35">Cer(d18:0_24:1)_1</text>
<text transform="translate(1693.36 814.77) scale(0.8690 1)" font-size="31" fill="#363636" stroke="#363636" stroke-width="0.35">SM(d43:2)_1</text>
<text transform="translate(1692.94 850.13) scale(0.8690 1)" font-size="31" fill="#363636" stroke="#363636" stroke-width="0.35">Cer(d18:1_24:1)_1</text>
<text transform="translate(1692.10 885.50) scale(0.8690 1)" font-size="31" fill="#363636" stroke="#363636" stroke-width="0.35">Nfkb2</text>
<text transform="translate(1693.78 920.87) scale(0.8690 1)" font-size="31" fill="#363636" stroke="#363636" stroke-width="0.35">Tnfaip3</text>
<text transform="translate(1692.94 956.23) scale(0.8690 1)" font-size="31" fill="#363636" stroke="#363636" stroke-width="0.35">Creb3l1</text>
<text transform="translate(1693.36 991.60) scale(0.8690 1)" font-size="31" fill="#363636" stroke="#363636" stroke-width="0.35">SM(d33:1)_1</text>
<text transform="translate(1693.78 1026.96) scale(0.8690 1)" font-size="31" fill="#363636" stroke="#363636" stroke-width="0.35">Tnfrsf12a</text>
<text transform="translate(1692.94 1062.33) scale(0.8690 1)" font-size="31" fill="#363636" stroke="#363636" stroke-width="0.35">Ccl4</text>
<text transform="translate(1692.10 1097.69) scale(0.8690 1)" font-size="31" fill="#363636" stroke="#363636" stroke-width="0.35">Hex1Cer(d18:1_24:0)_1</text>
<text transform="translate(1693.36 1133.06) scale(0.8690 1)" font-size="31" fill="#363636" stroke="#363636" stroke-width="0.35">SM(d18:0_16:0)_1</text>
<text transform="translate(1692.10 1168.42) scale(0.8690 1)" font-size="31" fill="#363636" stroke="#363636" stroke-width="0.35">Relb</text>
<text transform="translate(1692.94 1203.79) scale(0.8690 1)" font-size="31" fill="#363636" stroke="#363636" stroke-width="0.35">Cxcl14</text>
<text transform="translate(1692.94 1239.15) scale(0.8690 1)" font-size="31" fill="#363636" stroke="#363636" stroke-width="0.35">Cer(d18:1_23:0)_2</text>
<text transform="translate(1692.94 1274.52) scale(0.8690 1)" font-size="31" fill="#363636" stroke="#363636" stroke-width="0.35">Cxcl16</text>
<text transform="translate(1692.94 1309.88) scale(0.8690 1)" font-size="31" fill="#363636" stroke="#363636" stroke-width="0.35">Gnb5</text>
<text transform="translate(1692.94 1345.25) scale(0.8690 1)" font-size="31" fill="#363636" stroke="#363636" stroke-width="0.35">Ccl7</text>
<text transform="translate(1692.10 1380.61) scale(0.8690 1)" font-size="31" fill="#363636" stroke="#363636" stroke-width="0.35">Bcl2a1b</text>
<text transform="translate(1693.78 1415.98) scale(0.8690 1)" font-size="31" fill="#363636" stroke="#363636" stroke-width="0.35">Tgfb3</text>
<text transform="translate(1692.10 1451.34) scale(0.8690 1)" font-size="31" fill="#363636" stroke="#363636" stroke-width="0.35">Hex1Cer(d18:1_24:1)_1</text>
<text transform="translate(1692.94 1486.71) scale(0.8690 1)" font-size="31" fill="#363636" stroke="#363636" stroke-width="0.35">Ccl2</text>
<text transform="translate(1692.94 1522.07) scale(0.8690 1)" font-size="31" fill="#363636" stroke="#363636" stroke-width="0.35">Cer(d18:0_22:0)_1</text>
<text transform="translate(1693.78 1557.44) scale(0.8690 1)" font-size="31" fill="#363636" stroke="#363636" stroke-width="0.35">Tnfrsf10b</text>
<text transform="translate(1692.94 1592.80) scale(0.8690 1)" font-size="31" fill="#363636" stroke="#363636" stroke-width="0.35">Ccl3</text>
<text transform="translate(1692.10 1628.17) scale(0.8690 1)" font-size="31" fill="#363636" stroke="#363636" stroke-width="0.35">Pf4</text>
<text transform="translate(1692.10 1663.53) scale(0.8690 1)" font-size="31" fill="#363636" stroke="#363636" stroke-width="0.35">Bcl2</text>
<text transform="translate(1694.20 1698.90) scale(0.8690 1)" font-size="31" fill="#363636" stroke="#363636" stroke-width="0.35">Adcy1</text>
<text transform="translate(1693.36 1734.26) scale(0.8690 1)" font-size="31" fill="#363636" stroke="#363636" stroke-width="0.35">SM(d18:1_24:0)_1</text>
<text transform="translate(1693.36 1769.63) scale(0.8690 1)" font-size="31" fill="#363636" stroke="#363636" stroke-width="0.35">SM(d18:1_24:0)_2</text>
<text transform="translate(1692.94 1804.99) scale(0.8690 1)" font-size="31" fill="#363636" stroke="#363636" stroke-width="0.35">Ccl5</text>
<text transform="translate(1693.36 1840.36) scale(0.8690 1)" font-size="31" fill="#363636" stroke="#363636" stroke-width="0.35">SM(d18:1_14:0)_1</text>
<text transform="translate(1692.94 1875.72) scale(0.8690 1)" font-size="31" fill="#363636" stroke="#363636" stroke-width="0.35">Ccl9</text>
</svg></body></html>
